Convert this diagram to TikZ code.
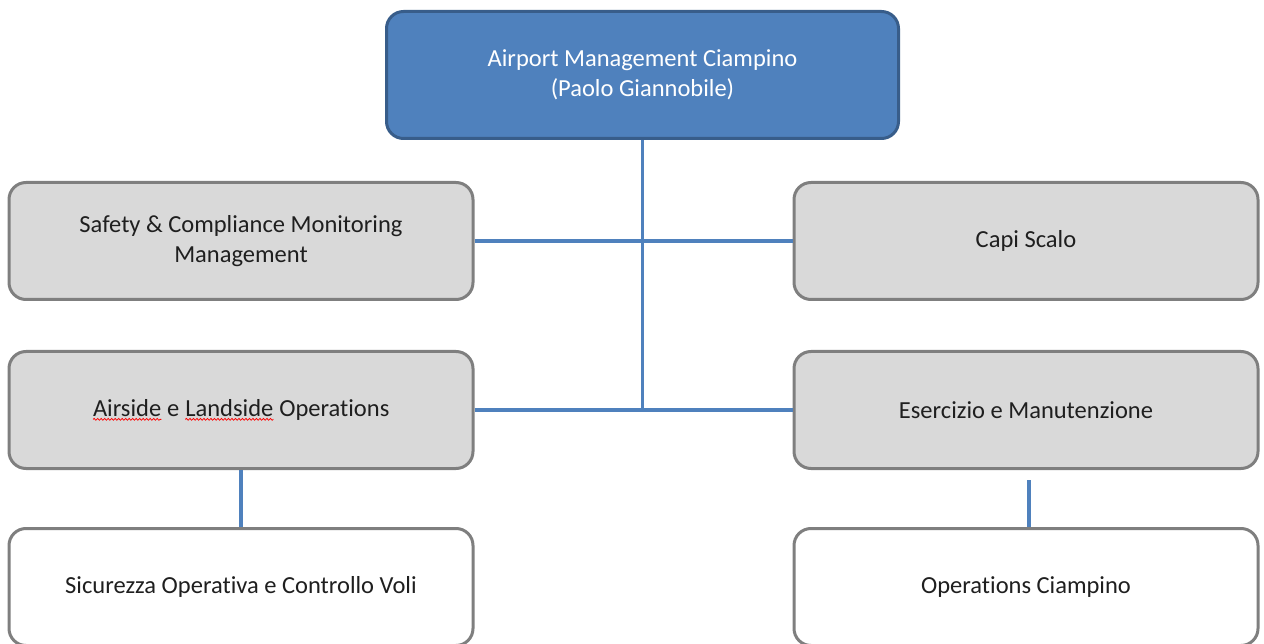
\documentclass[tikz,border=0pt]{standalone}
\usepackage{fontspec}
\setmainfont{Carlito}[Ligatures={NoCommon}]
\usetikzlibrary{decorations.pathmorphing}
\definecolor{topfill}{HTML}{4F81BD}
\definecolor{topline}{HTML}{385D8A}
\definecolor{boxfill}{HTML}{D9D9D9}
\definecolor{boxline}{HTML}{7F7F7F}
\definecolor{conn}{HTML}{4F81BD}
\definecolor{txt}{HTML}{1F1F1F}
\newcommand\spellerr[1]{\tikz[baseline=(w.base),x=1pt,y=1pt]{\node[inner sep=0pt,outer sep=0pt,minimum width=0pt,minimum height=0pt,draw=none,fill=none,rounded corners=0pt,text=txt](w){#1};\draw[red,line width=0.8pt,rounded corners=0pt,decorate,decoration={snake,amplitude=0.9pt,segment length=3.5pt}]([yshift=-3pt]w.base west)--([yshift=-3pt]w.base east);}}
\tikzset{
  orgbox/.style={rounded corners=17pt, line width=3pt, minimum width=464pt, minimum height=117pt, align=center, font=\fontsize{24.5}{30}\selectfont, text=txt, inner sep=0pt},
  greybox/.style={orgbox, draw=boxline, fill=boxfill},
  whitebox/.style={orgbox, draw=boxline, fill=white},
  topbox/.style={orgbox, draw=topline, fill=topfill, text=white, minimum width=512pt, minimum height=127pt},
  link/.style={draw=conn, line width=3.5pt}
}
\begin{document}
\begin{tikzpicture}[x=1pt,y=-1pt]
\useasboundingbox (0,0) rectangle (1264,644);
\clip (0,0) rectangle (1264,644);
\node[topbox] (top) at (642.5,75) {Airport Management Ciampino\\(Paolo Giannobile)};
\node[greybox] (safety) at (241,241) {Safety \& Compliance Monitoring\\Management};
\node[greybox] (capi) at (1026,241) {Capi Scalo};
\node[greybox] (air) at (241,410) {\spellerr{Airside} e \spellerr{Landside} Operations};
\node[greybox] (eser) at (1026,410) {Esercizio e Manutenzione};
\node[whitebox] (sic) at (241,587) {Sicurezza Operativa e Controllo Voli};
\node[whitebox] (ops) at (1026,587) {Operations Ciampino};
\coordinate (opsin) at (1029,480);
\draw[link] (top.south) -- (top.south |- air.east);
\draw[link] (safety.east) -- (capi.west);
\draw[link] (air.east) -- (eser.west);
\draw[link] (air.south) -- (sic.north);
\draw[link] (opsin) -- (opsin |- ops.north);
\end{tikzpicture}
\end{document}
